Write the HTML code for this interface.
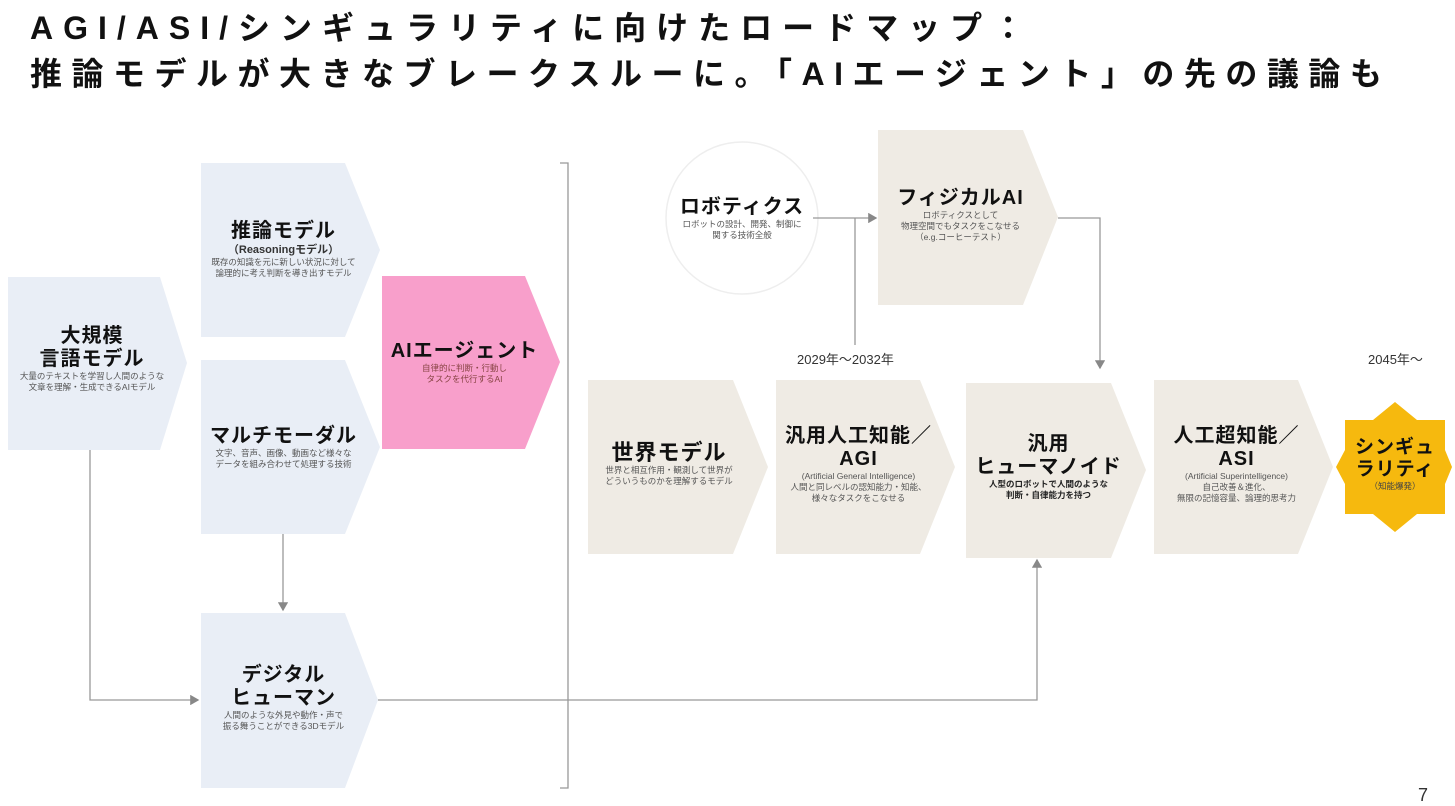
<!DOCTYPE html>
<html><head><meta charset="utf-8"><style>
body{margin:0;width:1455px;height:804px;background:#fff;position:relative;overflow:hidden;font-family:"Liberation Sans","Noto Sans CJK JP",sans-serif;color:#111}
.t{position:absolute;left:30px;font-size:32px;font-weight:bold;letter-spacing:9.5px;white-space:nowrap;line-height:1}
.b{position:absolute;text-align:center;line-height:1.15}
.h{font-weight:bold;font-size:20px;letter-spacing:1px}
.s{font-size:8.5px;color:#555;line-height:1.3}
.lab{position:absolute;font-size:13px;color:#333}
</style></head><body>
<div class="t" style="top:12px;letter-spacing:10px">AGI/ASI/シンギュラリティに向けたロードマップ：</div>
<div class="t" style="top:58px">推論モデルが大きなブレークスルーに。「AIエージェント」の先の議論も</div>
<svg width="1455" height="804" style="position:absolute;left:0;top:0">
<defs><marker id="a" markerWidth="8" markerHeight="8" refX="6" refY="4" orient="auto"><path d="M0,0 L7,4 L0,8z" fill="#888"/></marker></defs>
<g fill="#e9eef6">
<polygon points="8,277 160,277 187,363 160,450 8,450"/>
<polygon points="201,163 345,163 380,250 345,337 201,337"/>
<polygon points="201,360 345,360 380,447 345,534 201,534"/>
<polygon points="201,613 345,613 378,700 345,788 201,788"/>
</g>
<polygon points="382,276 525,276 560,362 525,449 382,449" fill="#f89fcb"/>
<g fill="#efebe4">
<polygon points="588,380 733,380 768,467 733,554 588,554"/>
<polygon points="776,380 920,380 955,467 920,554 776,554"/>
<polygon points="966,383 1111,383 1146,470 1111,558 966,558"/>
<polygon points="1154,380 1298,380 1333,467 1298,554 1154,554"/>
<polygon points="878,130 1023,130 1058,217 1023,305 878,305"/>
</g>
<polygon points="1395,402 1417,420 1445,420 1445,450 1452,467 1445,484 1445,514 1417,514 1395,532 1373,514 1345,514 1345,484 1336,467 1345,450 1345,420 1373,420" fill="#f6b90e"/>
<circle cx="742" cy="218" r="76" fill="#fff" stroke="#eee" stroke-width="1.5"/>
<g stroke="#999" stroke-width="1.3" fill="none">
<path d="M560,163 H568 V788 H560"/>
<path d="M813,218 H876" marker-end="url(#a)"/>
<path d="M855,218 V345"/>
<path d="M1058,218 H1100 V368" marker-end="url(#a)"/>
<path d="M283,534 V610" marker-end="url(#a)"/>
<path d="M90,450 V700 H198" marker-end="url(#a)"/>
<path d="M378,700 H1037 V560" marker-end="url(#a)"/>
</g>
</svg>
<div class="b" style="left:8px;top:325px;width:168px"><div class="h">大規模<br>言語モデル</div><div class="s">大量のテキストを学習し人間のような<br>文章を理解・生成できるAIモデル</div></div>
<div class="b" style="left:201px;top:220px;width:165px"><div class="h">推論モデル</div><div class="s" style="font-size:11px;color:#333;font-weight:bold">（Reasoningモデル）</div><div class="s">既存の知識を元に新しい状況に対して<br>論理的に考え判断を導き出すモデル</div></div>
<div class="b" style="left:201px;top:425px;width:165px"><div class="h">マルチモーダル</div><div class="s">文字、音声、画像、動画など様々な<br>データを組み合わせて処理する技術</div></div>
<div class="b" style="left:201px;top:664px;width:165px"><div class="h">デジタル<br>ヒューマン</div><div class="s">人間のような外見や動作・声で<br>振る舞うことができる3Dモデル</div></div>
<div class="b" style="left:382px;top:340px;width:165px"><div class="h">AIエージェント</div><div class="s" style="color:#844">自律的に判断・行動し<br>タスクを代行するAI</div></div>
<div class="b" style="left:666px;top:196px;width:152px"><div class="h">ロボティクス</div><div class="s">ロボットの設計、開発、制御に<br>関する技術全般</div></div>
<div class="b" style="left:878px;top:187px;width:165px"><div class="h">フィジカルAI</div><div class="s">ロボティクスとして<br>物理空間でもタスクをこなせる<br>（e.g.コーヒーテスト）</div></div>
<div class="b" style="left:584px;top:440px;width:170px"><div class="h" style="font-size:22px">世界モデル</div><div class="s">世界と相互作用・観測して世界が<br>どういうものかを理解するモデル</div></div>
<div class="b" style="left:776px;top:425px;width:165px"><div class="h">汎用人工知能／<br>AGI</div><div class="s">(Artificial General Intelligence)<br>人間と同レベルの認知能力・知能、<br>様々なタスクをこなせる</div></div>
<div class="b" style="left:966px;top:433px;width:165px"><div class="h">汎用<br>ヒューマノイド</div><div class="s" style="color:#222;font-weight:bold">人型のロボットで人間のような<br>判断・自律能力を持つ</div></div>
<div class="b" style="left:1154px;top:425px;width:165px"><div class="h">人工超知能／<br>ASI</div><div class="s">(Artificial Superintelligence)<br>自己改善＆進化、<br>無限の記憶容量、論理的思考力</div></div>
<div class="b" style="left:1345px;top:437px;width:100px"><div class="h" style="font-size:19px">シンギュ<br>ラリティ</div><div class="s" style="color:#444">（知能爆発）</div></div>
<div class="lab" style="left:797px;top:349px">2029年～2032年</div>
<div class="lab" style="left:1368px;top:349px">2045年～</div>
<div class="lab" style="left:1418px;top:785px;font-size:18px">7</div>
</body></html>
